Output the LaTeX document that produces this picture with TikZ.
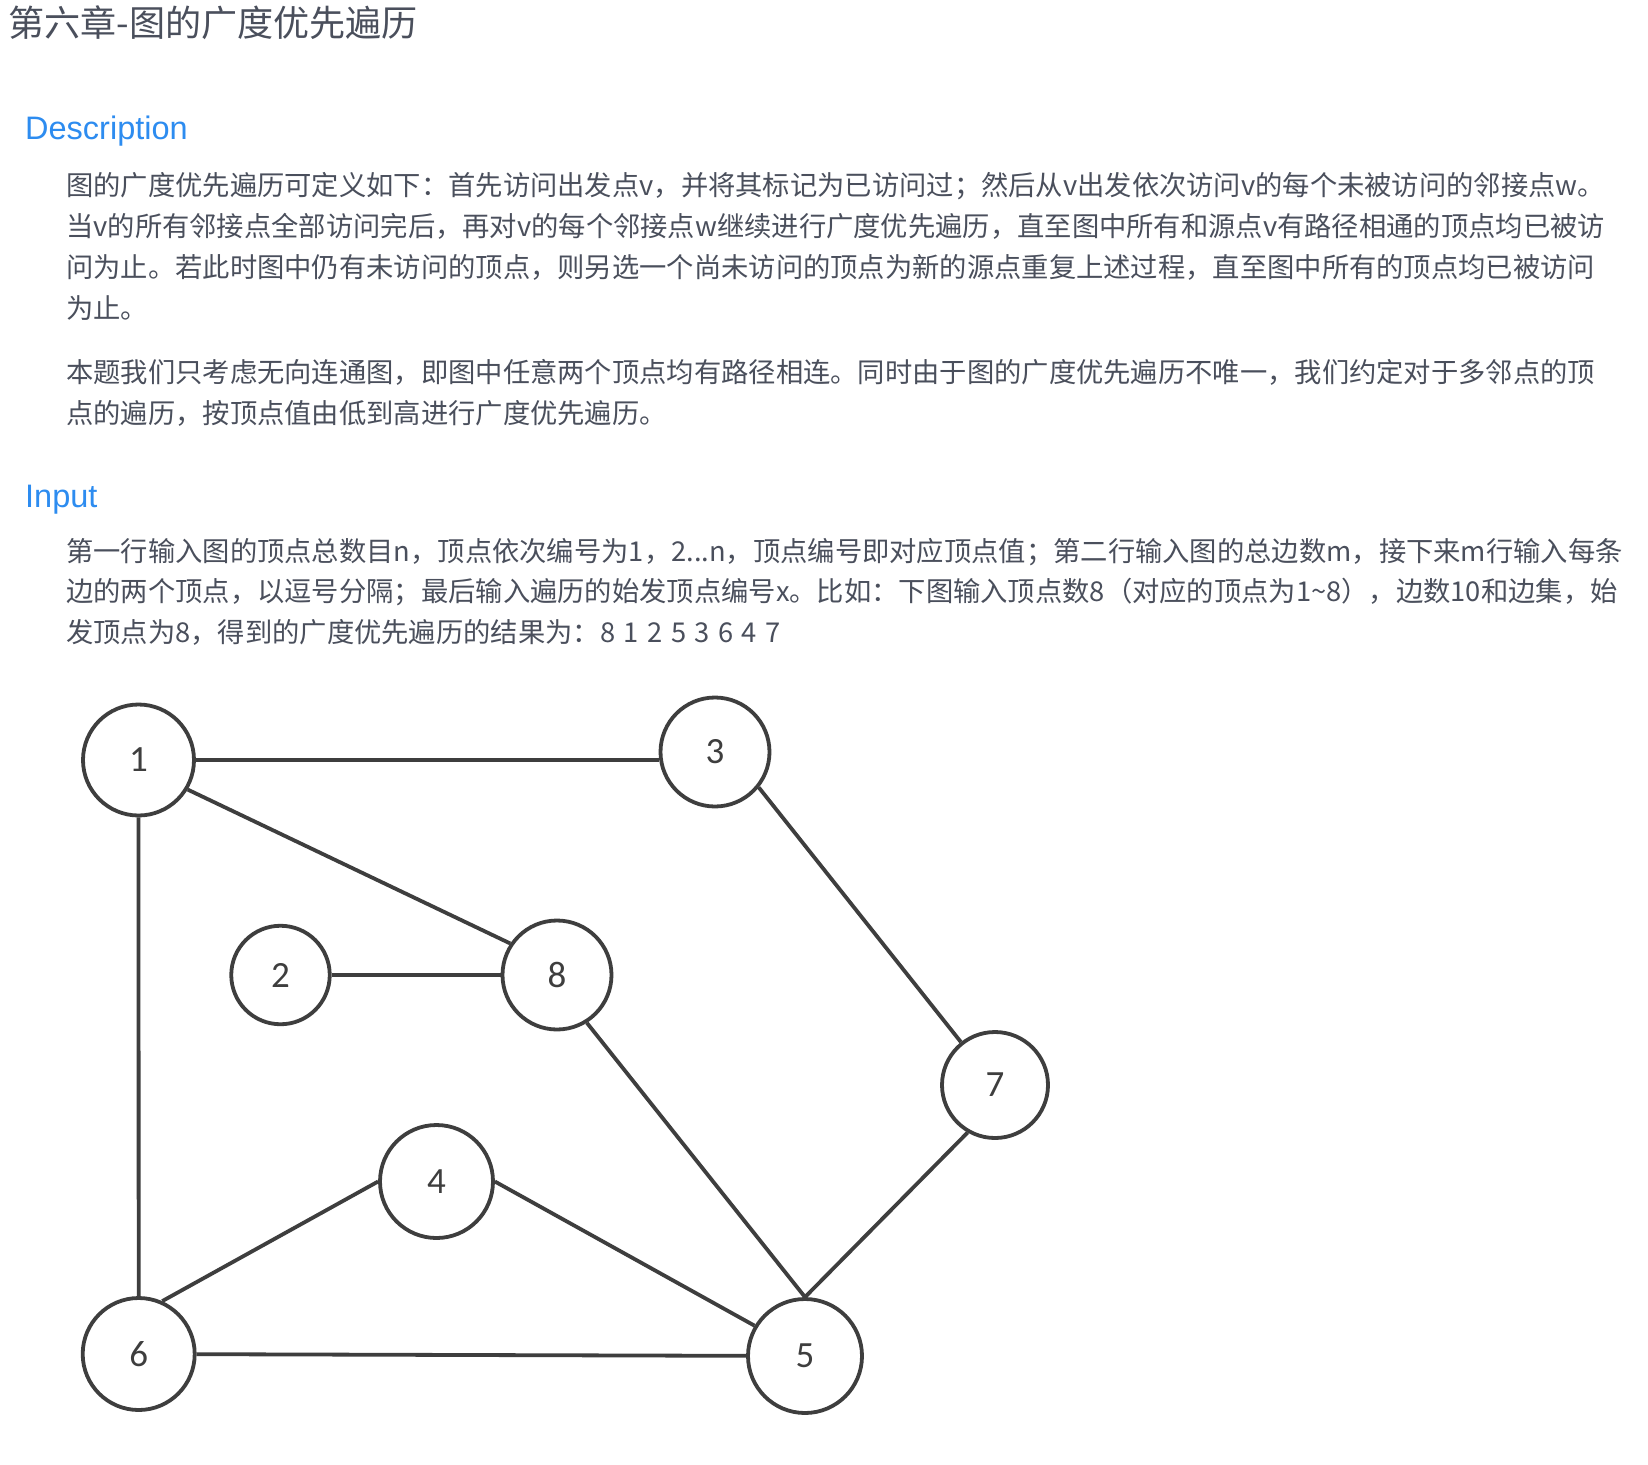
\documentclass[tikz,border=0pt]{standalone}
\usepackage{fontspec}
\setmainfont{Noto Sans CJK SC}
\newfontfamily\headfont{Liberation Sans}
\newfontfamily\numfont{Carlito}
\definecolor{bodytext}{HTML}{4A4F5C}
\definecolor{headblue}{HTML}{2D8CF0}
\definecolor{graphgray}{HTML}{3E3E3E}
\newcommand{\sqgap}{\hspace{8.5pt}}
\begin{document}
\begin{tikzpicture}[x=1pt,y=-1pt,
  txt/.style={anchor=base west, inner sep=0pt, text=bodytext, font=\fontsize{27.3}{27.3}\selectfont},
  head/.style={anchor=base west, inner sep=0pt, text=headblue, font=\headfont\fontsize{32.5}{32.5}\selectfont},
  vtx/.style={circle, draw=graphgray, line width=3.8pt, inner sep=0pt, text=graphgray, font=\numfont\fontsize{37}{37}\selectfont},
  edge/.style={draw=graphgray, line width=3.8pt}]
\fill[white] (0,0) rectangle (1648,1464);
\useasboundingbox (0,0) rectangle (1648,1464);
% title and headings
\node[anchor=base west, inner sep=0pt, text=bodytext, font=\fontsize{36.1}{36.1}\selectfont] (title) at (8,37) {第六章-图的广度优先遍历};
\node[head] (hdesc) at (25,139) {Description};
\node[head] (hinput) at (25,507) {Input};
% description
\node[txt] (d1) at (66,195) {图的广度优先遍历可定义如下：首先访问出发点v，并将其标记为已访问过；然后从v出发依次访问v的每个未被访问的邻接点w。};
\node[txt] (d2) at (66,236) {当v的所有邻接点全部访问完后，再对v的每个邻接点w继续进行广度优先遍历，直至图中所有和源点v有路径相通的顶点均已被访};
\node[txt] (d3) at (66,277) {问为止。若此时图中仍有未访问的顶点，则另选一个尚未访问的顶点为新的源点重复上述过程，直至图中所有的顶点均已被访问};
\node[txt] (d4) at (66,318) {为止。};
\node[txt] (e1) at (66,382) {本题我们只考虑无向连通图，即图中任意两个顶点均有路径相连。同时由于图的广度优先遍历不唯一，我们约定对于多邻点的顶};
\node[txt] (e2) at (66,423) {点的遍历，按顶点值由低到高进行广度优先遍历。};
% input
\node[txt] (i1) at (66,561) {第一行输入图的顶点总数目n，顶点依次编号为1，2...n，顶点编号即对应顶点值；第二行输入图的总边数m，接下来m行输入每条};
\node[txt] (i2) at (66,601) {边的两个顶点，以逗号分隔；最后输入遍历的始发顶点编号x。比如：下图输入顶点数8（对应的顶点为1\textasciitilde8），边数10和边集，始};
\node[txt] (i3) at (66,642) {发顶点为8，得到的广度优先遍历的结果为：8\sqgap1\sqgap2\sqgap5\sqgap3\sqgap6\sqgap4\sqgap7};
% graph
\node[vtx, minimum size=111] (n1) at (138.5,760) {1};
\node[vtx, minimum size=109] (n3) at (715,752) {3};
\node[vtx, minimum size=98.5] (n2) at (280.5,975) {2};
\node[vtx, minimum size=109] (n8) at (557,975) {8};
\node[vtx, minimum size=106] (n7) at (995,1085) {7};
\node[vtx, minimum size=113] (n4) at (436.5,1181.5) {4};
\node[vtx, minimum size=112] (n6) at (138.7,1354) {6};
\node[vtx, minimum size=114] (n5) at (805,1356) {5};
\draw[edge] (n1.east) -- (n1.east -| n3.west);
\draw[edge] (n1.-31) -- (n8.146);
\draw[edge] (n1) -- (n6);
\draw[edge] (n2) -- (n8);
\draw[edge] (n3.-39) -- (n7);
\draw[edge] (n8.-58) -- (n5.north);
\draw[edge] (n7.240) -- (n5.north);
\draw[edge] (n4.west) -- (n6.66);
\draw[edge] (n4.east) -- (n5.149);
\draw[edge] (n6) -- (n5);
\end{tikzpicture}
\end{document}
